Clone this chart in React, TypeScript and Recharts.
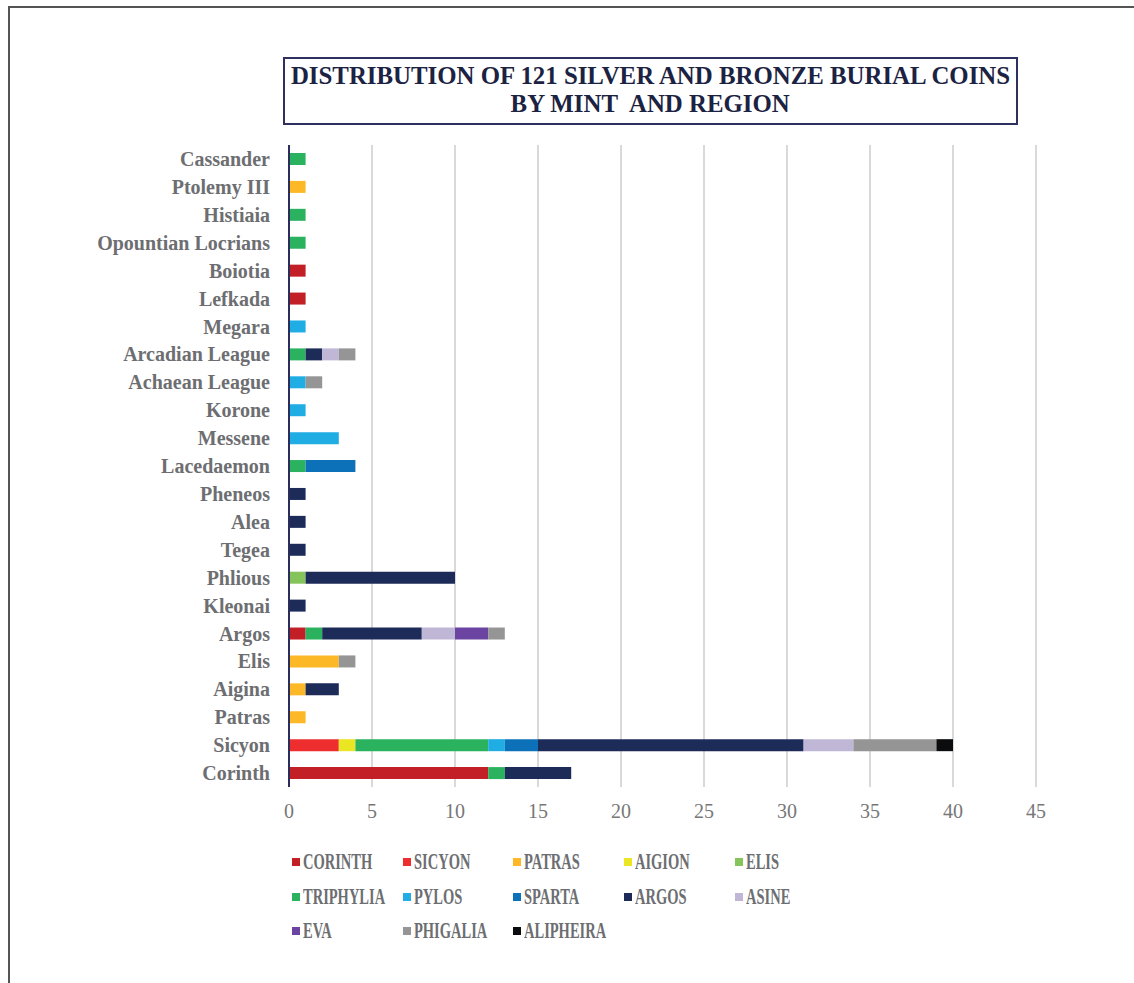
import React from "react";
import { BarChart, Bar, XAxis, YAxis, CartesianGrid } from "recharts";

const mints = [
  "Cassander",
  "Ptolemy III",
  "Histiaia",
  "Opountian Locrians",
  "Boiotia",
  "Lefkada",
  "Megara",
  "Arcadian League",
  "Achaean League",
  "Korone",
  "Messene",
  "Lacedaemon",
  "Pheneos",
  "Alea",
  "Tegea",
  "Phlious",
  "Kleonai",
  "Argos",
  "Elis",
  "Aigina",
  "Patras",
  "Sicyon",
  "Corinth",
];

// one value per mint, same order as above
const corinth = [0, 0, 0, 0, 1, 1, 0, 0, 0, 0, 0, 0, 0, 0, 0, 0, 0, 1, 0, 0, 0, 0, 12];
const sicyon = [0, 0, 0, 0, 0, 0, 0, 0, 0, 0, 0, 0, 0, 0, 0, 0, 0, 0, 0, 0, 0, 3, 0];
const patras = [0, 1, 0, 0, 0, 0, 0, 0, 0, 0, 0, 0, 0, 0, 0, 0, 0, 0, 3, 1, 1, 0, 0];
const aigion = [0, 0, 0, 0, 0, 0, 0, 0, 0, 0, 0, 0, 0, 0, 0, 0, 0, 0, 0, 0, 0, 1, 0];
const elis = [0, 0, 0, 0, 0, 0, 0, 0, 0, 0, 0, 0, 0, 0, 0, 1, 0, 0, 0, 0, 0, 0, 0];
const triphylia = [1, 0, 1, 1, 0, 0, 0, 1, 0, 0, 0, 1, 0, 0, 0, 0, 0, 1, 0, 0, 0, 8, 1];
const pylos = [0, 0, 0, 0, 0, 0, 1, 0, 1, 1, 3, 0, 0, 0, 0, 0, 0, 0, 0, 0, 0, 1, 0];
const sparta = [0, 0, 0, 0, 0, 0, 0, 0, 0, 0, 0, 3, 0, 0, 0, 0, 0, 0, 0, 0, 0, 2, 0];
const argos = [0, 0, 0, 0, 0, 0, 0, 1, 0, 0, 0, 0, 1, 1, 1, 9, 1, 6, 0, 2, 0, 16, 4];
const asine = [0, 0, 0, 0, 0, 0, 0, 1, 0, 0, 0, 0, 0, 0, 0, 0, 0, 2, 0, 0, 0, 3, 0];
const eva = [0, 0, 0, 0, 0, 0, 0, 0, 0, 0, 0, 0, 0, 0, 0, 0, 0, 2, 0, 0, 0, 0, 0];
const phigalia = [0, 0, 0, 0, 0, 0, 0, 1, 1, 0, 0, 0, 0, 0, 0, 0, 0, 1, 1, 0, 0, 5, 0];
const alipheira = [0, 0, 0, 0, 0, 0, 0, 0, 0, 0, 0, 0, 0, 0, 0, 0, 0, 0, 0, 0, 0, 1, 0];

const xTicks = [0, 5, 10, 15, 20, 25, 30, 35, 40, 45];

const series = [
  { key: "CORINTH", values: corinth, color: "#c21f26" },
  { key: "SICYON", values: sicyon, color: "#ee2e2e" },
  { key: "PATRAS", values: patras, color: "#fdb827" },
  { key: "AIGION", values: aigion, color: "#ebe624" },
  { key: "ELIS", values: elis, color: "#84c45a" },
  { key: "TRIPHYLIA", values: triphylia, color: "#2bb25f" },
  { key: "PYLOS", values: pylos, color: "#1fade4" },
  { key: "SPARTA", values: sparta, color: "#0d71b9" },
  { key: "ARGOS", values: argos, color: "#1d2b59" },
  { key: "ASINE", values: asine, color: "#c0b7d6" },
  { key: "EVA", values: eva, color: "#6a44a0" },
  { key: "PHIGALIA", values: phigalia, color: "#959595" },
  { key: "ALIPHEIRA", values: alipheira, color: "#0b0c0e" },
];

const chartData = mints.map((mint, i) => {
  const row: Record<string, any> = { mint };
  series.forEach((s) => {
    row[s.key] = s.values[i];
  });
  return row;
});

const serif = '"Liberation Serif", "Times New Roman", serif';
const legendCols = [292, 403, 513, 624, 735];
const legendRows = [862, 897, 931];

export default function App() {
  return (
    <div
      style={{
        position: "absolute",
        left: 0,
        top: 0,
        width: 1134,
        height: 983,
        background: "#fff",
        overflow: "hidden",
        fontFamily: serif,
      }}
    >
      {/* frame */}
      <div
        style={{
          position: "absolute",
          left: 8,
          top: 6,
          width: 1134,
          height: 990,
          borderTop: "2px solid #555",
          borderLeft: "2px solid #555",
        }}
      />

      {/* title box */}
      <div
        style={{
          position: "absolute",
          left: 283,
          top: 57,
          width: 731,
          height: 61,
          border: "2px solid #2e3160",
          color: "#1b2242",
          fontWeight: "bold",
          fontSize: 26,
          lineHeight: "28px",
          paddingTop: 3,
          whiteSpace: "nowrap",
          display: "flex",
          flexDirection: "column",
          alignItems: "center",
        }}
      >
        <div style={{ transform: "scaleX(0.955)" }}>
          DISTRIBUTION OF 121 SILVER AND BRONZE BURIAL COINS
        </div>
        <div style={{ transform: "scaleX(0.955)" }}>BY MINT&nbsp; AND REGION</div>
      </div>

      <div style={{ position: "absolute", left: 0, top: 0 }}>
        <BarChart
          width={1134}
          height={983}
          data={chartData}
          layout="vertical"
          margin={{ top: 145, right: 98, bottom: 146, left: 0 }}
          barSize={12}
        >
          <CartesianGrid
            horizontal={false}
            vertical={true}
            stroke="#d9d9d9"
            strokeWidth={2}
          />
          <XAxis
            type="number"
            domain={[0, 45]}
            ticks={xTicks}
            axisLine={false}
            tickLine={false}
            tickSize={0}
            tickMargin={17}
            height={50}
            tick={{ fill: "#777", fontSize: 20, fontFamily: serif }}
          />
          <YAxis
            type="category"
            dataKey="mint"
            width={289}
            interval={0}
            tickLine={false}
            tickSize={0}
            tickMargin={19}
            axisLine={{ stroke: "#2b2d5a", strokeWidth: 2 }}
            tick={{
              fill: "#6d6e71",
              fontSize: 20,
              fontWeight: "bold",
              fontFamily: serif,
            }}
          />
          {series.map((s) => (
            <Bar
              key={s.key}
              dataKey={s.key}
              stackId="a"
              fill={s.color}
              isAnimationActive={false}
            />
          ))}
        </BarChart>
      </div>

      {/* legend */}
      {series.map((s, i) => (
        <div
          key={s.key}
          style={{
            position: "absolute",
            left: legendCols[i % 5],
            top: legendRows[Math.floor(i / 5)] - 12,
            height: 24,
            display: "flex",
            alignItems: "center",
            whiteSpace: "nowrap",
          }}
        >
          <div style={{ width: 8, height: 8, background: s.color, marginRight: 3 }} />
          <div
            style={{
              color: "#6d6e71",
              fontWeight: "bold",
              fontSize: 23,
              transform: "scaleX(0.63)",
              transformOrigin: "left center",
            }}
          >
            {s.key}
          </div>
        </div>
      ))}
    </div>
  );
}
